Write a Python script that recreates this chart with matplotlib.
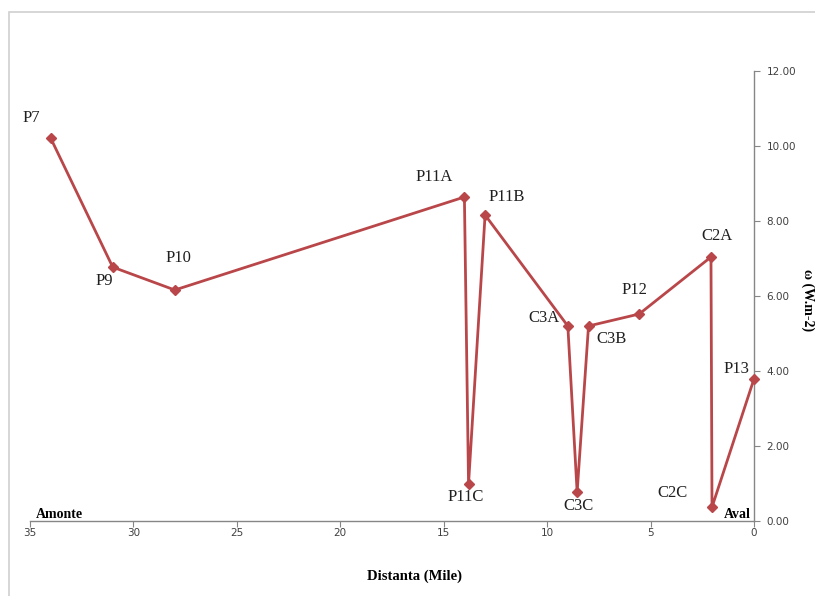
import matplotlib.pyplot as plt
from matplotlib.patches import Rectangle

# Data
stations = ["P7", "P9", "P10", "P11A", "P11C", "P11B", "C3A", "C3C", "C3B",
            "P12", "C2A", "C2C", "P13"]
distance = [34.0, 31.0, 28.0, 14.0, 13.8, 13.0, 9.0, 8.55, 8.0, 5.55, 2.08, 2.03, 0.0]
omega = [10.21, 6.77, 6.16, 8.64, 0.99, 8.16, 5.2, 0.77, 5.2, 5.52, 7.04, 0.37, 3.79]

# label offsets in pixels (dx, dy) from each point
offsets = [(-19, 20), (-8, -14), (4, 32), (-30, 20), (-3, -13), (22, 18),
           (-24, 8), (1, -14), (23, -13), (-5, 24), (6, 21), (-40, 14), (-18, 10)]

line_col = "#B9474A"
axis_col = "#868686"

fig = plt.figure(figsize=(8.15, 5.96), dpi=100)
fig.patches.append(Rectangle((9 / 815, -0.1), 1.2, 1 - 12 / 596 + 0.1,
                             transform=fig.transFigure, fill=False,
                             edgecolor="#D0D0D0", linewidth=1.2))

ax = fig.add_axes([30 / 815, 1 - 521 / 596, (754 - 30) / 815, (521 - 71) / 596])
ax.plot(distance, omega, color=line_col, linewidth=2, marker="D",
        markersize=5, markerfacecolor=line_col, markeredgecolor=line_col,
        clip_on=False, zorder=3)

for name, x, y, (dx, dy) in zip(stations, distance, omega, offsets):
    ax.annotate(name, (x, y), xytext=(dx, dy), textcoords="offset pixels",
                ha="center", va="center", fontsize=12,
                family="Liberation Serif", color="#202020")

ax.set_xlim(35, 0)
ax.set_ylim(0, 12)
ax.set_xticks(range(35, -1, -5))
ax.set_yticks(range(0, 13, 2))
ax.set_yticklabels(["%.2f" % v for v in range(0, 13, 2)])

ax.yaxis.tick_right()
ax.yaxis.set_label_position("right")
for s in ["top", "left"]:
    ax.spines[s].set_visible(False)
for s in ["bottom", "right"]:
    ax.spines[s].set_color(axis_col)
    ax.spines[s].set_linewidth(1)
ax.tick_params(axis="both", colors=axis_col, labelcolor="#404040",
               labelsize=7.5, length=4)
ax.tick_params(axis="x", pad=1)
ax.tick_params(axis="y", pad=5)

ax.set_facecolor("none")

fig.text(415 / 815, 1 - 576 / 596, "Distanta (Mile)", ha="center", va="center",
         fontsize=10.5, fontweight="bold", family="Liberation Serif")
fig.text(36 / 815, 1 - 514 / 596, "Amonte", ha="left", va="center",
         fontsize=10, fontweight="bold", family="Liberation Serif")
fig.text(751 / 815, 1 - 514 / 596, "Aval", ha="right", va="center",
         fontsize=10, fontweight="bold", family="Liberation Serif")
fig.text(808 / 815, 1 - 300 / 596, "ω (W.m-2)", ha="center", va="center",
         rotation=270, fontsize=10, fontweight="bold", family="Liberation Serif")

fig.savefig("out.png", dpi=100)
